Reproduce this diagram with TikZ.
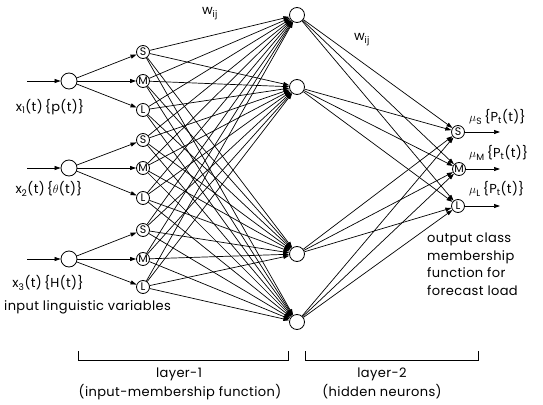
\documentclass[tikz,border=0pt]{standalone}
\usepackage{fontspec}
\setmainfont[LetterSpace=3]{Poppins}
\usetikzlibrary{arrows.meta}
\tikzset{
  inp/.style  ={draw, circle, minimum size=16pt, inner sep=0pt, line width=0.8pt},
  mf/.style   ={draw, circle, minimum size=13pt, inner sep=0pt, line width=0.8pt,
                font=\fontsize{11}{11}\selectfont},
  hid/.style  ={draw, circle, minimum size=15pt, inner sep=0pt, line width=0.8pt},
  con/.style  ={-{Triangle[length=6pt,width=4pt]}, line width=0.7pt},
  lbl/.style  ={font=\fontsize{13}{15}\selectfont, inner sep=0pt},
  brk/.style  ={line width=0.8pt},
}

\begin{document}
\begin{tikzpicture}[x=1pt, y=-1pt]
\useasboundingbox (0,0) rectangle (543,404);
% input neurons
\node[inp] (in1) at (69,81)  {};
\node[inp] (in2) at (69,168) {};
\node[inp] (in3) at (69,259) {};
\coordinate (x1) at (27,81);
\coordinate (x2) at (27,168);
\coordinate (x3) at (27,259);
% membership nodes
\node[mf] (s1) at (143,52)  {S};
\node[mf] (m1) at (143,81)  {M};
\node[mf] (l1) at (143,110) {L};
\node[mf] (s2) at (143,140) {S};
\node[mf] (m2) at (143,168) {M};
\node[mf] (l2) at (143,198) {L};
\node[mf] (s3) at (143,230) {S};
\node[mf] (m3) at (143,259) {M};
\node[mf] (l3) at (143,287) {L};
% hidden neurons
\node[hid] (h1) at (297,15)  {};
\node[hid] (h2) at (297,87)  {};
\node[hid] (h3) at (297,254) {};
\node[hid] (h4) at (297,322) {};
% output nodes
\node[mf] (os) at (458,132) {S};
\node[mf] (om) at (459,169) {M};
\node[mf] (ol) at (458,206) {L};
\coordinate (es) at (500,132);
\coordinate (em) at (500,169);
\coordinate (el) at (500,206);

\foreach \i in {1,2,3} {
  \draw[con] (x\i) -- (in\i);
  \foreach \f in {s,m,l}
    \draw[con] (in\i) -- (\f\i);
}
\foreach \i in {1,2,3}
  \foreach \f in {s,m,l}
    \foreach \h in {1,...,4}
      \draw[con] (\f\i) -- (h\h);
\foreach \h in {1,...,4}
  \foreach \o in {os,om,ol}
    \draw[con] (h\h) -- (\o);
\draw[con] (os) -- (es);
\draw[con] (om) -- (em);
\draw[con] (ol) -- (el);

% labels
\node[lbl] (w1) at (210,14) {w\textsubscript{ij}};
\node[lbl] (w2) at (362,40) {w\textsubscript{ij}};
\node[lbl] (t1) at (50,107) {x\textsubscript{1}(t)\,\{p(t)\}};
\node[lbl] (t2) at (49,189) {x\textsubscript{2}(t)\,\{$\theta$(t)\}};
\node[lbl] (t3) at (48,283) {x\textsubscript{3}(t)\,\{H(t)\}};
\node[lbl, anchor=west] (iv) at (4,307) {input linguistic variables};
\node[lbl, anchor=west] (ls) at (469,117) {$\mu$\textsubscript{S}\,\{P\textsubscript{t}(t)\}};
\node[lbl, anchor=west] (lm) at (469,153) {$\mu$\textsubscript{M}\,\{P\textsubscript{t}(t)\}};
\node[lbl, anchor=west] (ll) at (469,189) {$\mu$\textsubscript{L}\,\{P\textsubscript{t}(t)\}};
\node[lbl, anchor=north west, align=left, font=\fontsize{13}{17.5}\selectfont]
  (oc) at (427,233) {output class\\membership\\function for\\forecast load};

% layer brackets
\draw[brk] (78,351) -- (78,360) -- (288,360) -- (288,351);
\draw[brk] (305,351) -- (305,360) -- (478,360) -- (478,351);
\node[lbl] (y1) at (179,374) {layer-1};
\node[lbl] (y1b) at (180,392) {(input-membership function)};
\node[lbl] (y2) at (382,374) {layer-2};
\node[lbl] (y2b) at (382,392) {(hidden neurons)};
\end{tikzpicture}
\end{document}
